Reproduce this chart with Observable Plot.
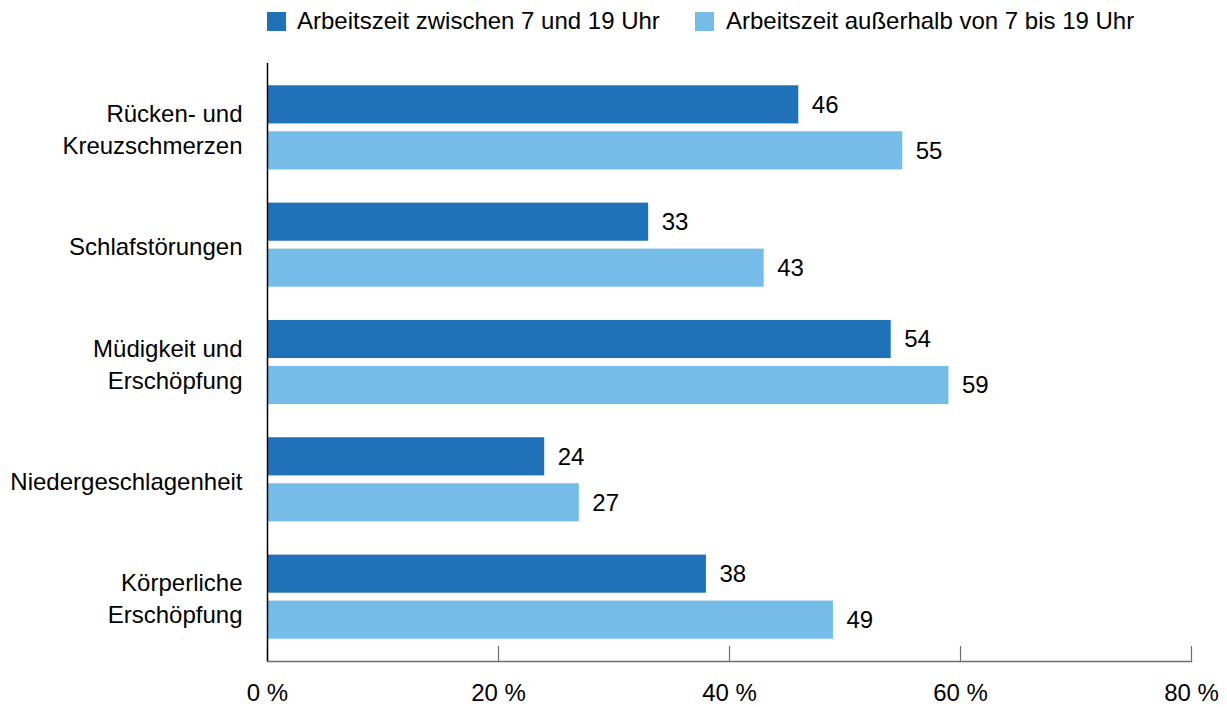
<!DOCTYPE html>
<html>
<head>
<meta charset="utf-8">
<script src="https://cdn.jsdelivr.net/npm/d3@7"></script>
<script src="https://cdn.jsdelivr.net/npm/@observablehq/plot@0.6"></script>
<style>
  html, body { margin: 0; padding: 0; background: #fff; }
  body { width: 1227px; height: 707px; overflow: hidden; font-family: "Liberation Sans", Arial, sans-serif; }
  #legend { position: relative; height: 48px; font-size: 24px; color: #000; }
  .sw { position: absolute; top: 12px; width: 19px; height: 19px; }
  .lt { position: absolute; top: 21px; transform: translateY(-50%); line-height: 1; white-space: nowrap; }
  #chart svg { display: block; }
</style>
</head>
<body>
<div id="legend"></div>
<div id="chart"></div>
<script>
const categories = [
  "Rücken- und\nKreuzschmerzen",
  "Schlafstörungen",
  "Müdigkeit und\nErschöpfung",
  "Niedergeschlagenheit",
  "Körperliche\nErschöpfung"
];
const seriesNames = ["Arbeitszeit zwischen 7 und 19 Uhr", "Arbeitszeit außerhalb von 7 bis 19 Uhr"];
const seriesColors = ["#1f71b8", "#75bde8"];
const dayValues = [46, 33, 54, 24, 38];
const offHoursValues = [55, 43, 59, 27, 49];
const xTicks = [0, 20, 40, 60, 80];

const dayData = categories.map((c, i) => ({category: c, value: dayValues[i]}));
const offData = categories.map((c, i) => ({category: c, value: offHoursValues[i]}));

// Legend
const legend = document.getElementById("legend");
const legendPos = [[267, 297], [695, 726]];
seriesNames.forEach((name, i) => {
  const sw = document.createElement("div");
  sw.className = "sw";
  sw.style.left = legendPos[i][0] + "px";
  sw.style.background = seriesColors[i];
  legend.appendChild(sw);
  const t = document.createElement("div");
  t.className = "lt";
  t.style.left = legendPos[i][1] + "px";
  t.textContent = name;
  legend.appendChild(t);
});

const plot = Plot.plot({
  width: 1227,
  height: 659,
  marginLeft: 267,
  marginRight: 36,
  marginTop: 15,
  marginBottom: 46,
  style: {fontFamily: '"Liberation Sans", Arial, sans-serif', fontSize: "24px", color: "#000", background: "#fff"},
  x: {domain: [0, 80]},
  y: {domain: categories, paddingInner: 0.283, paddingOuter: 0.19, round: false},
  marks: [
    Plot.barX(dayData, {x: "value", y: "category", fill: seriesColors[0], insetBottom: 46}),
    Plot.barX(offData, {x: "value", y: "category", fill: seriesColors[1], insetTop: 46}),
    Plot.text(dayData, {x: "value", y: "category", text: d => String(d.value), textAnchor: "start", dx: 13, dy: -23, fill: "#000"}),
    Plot.text(offData, {x: "value", y: "category", text: d => String(d.value), textAnchor: "start", dx: 13, dy: 23, fill: "#000"}),
    Plot.ruleX(xTicks, {stroke: "#6e6e6e", strokeWidth: 1.2, insetTop: 583}),
    Plot.frame({anchor: "bottom", stroke: "#6e6e6e", strokeWidth: 1.5}),
    Plot.ruleX([0], {stroke: "#000", strokeWidth: 1.5}),
    Plot.axisY({tickSize: 0, tickPadding: 25, lineHeight: 1.33, label: null}),
    Plot.axisX({ticks: xTicks, tickSize: 0, tickPadding: 22, tickFormat: d => d + " %", label: null})
  ]
});
document.getElementById("chart").appendChild(plot);
</script>
</body>
</html>
